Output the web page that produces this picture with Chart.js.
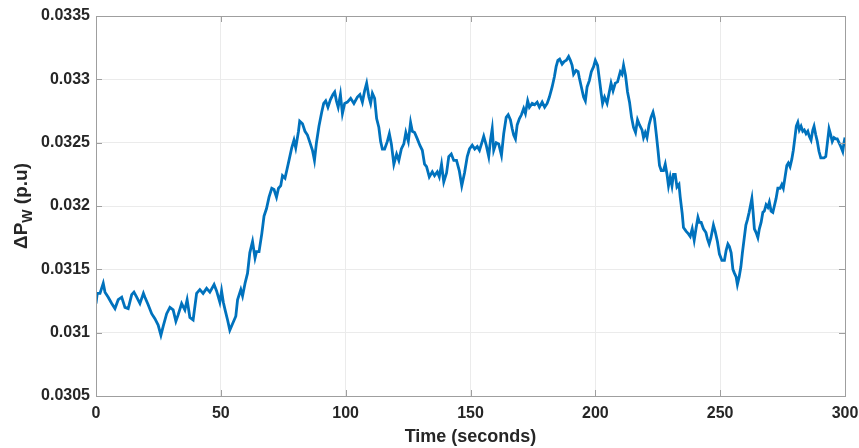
<!DOCTYPE html>
<html lang="en">
<head>
    <meta charset="UTF-8">
    <title>Delta Pw vs Time</title>
    <script src="https://cdn.jsdelivr.net/npm/chart.js"></script>
    <style>
        * { margin: 0; padding: 0; box-sizing: border-box; }
        body { background: #ffffff; }
        #chart { display: block; }
    </style>
</head>
<body>
    <canvas id="chart" width="859" height="448"></canvas>

    <script>
        // values
        var timeSec = [
            0, 0.5, 1.6, 2.9, 3.6, 4.9, 6.3, 7.6, 8.9, 10.3, 11.6, 12.9, 14.3, 15.2, 16.3, 17.6, 19, 19.6,
            20.9, 22.3, 23.6, 24.9, 26, 26.9, 28.3, 29.6, 30.9, 32, 32.9, 34.3, 35.6, 36.5, 37.6, 38.9,
            40.3, 41.6, 42.9, 44.3, 45.6, 47.3, 48.3, 49.6, 50.3, 51, 51.7, 52.7, 53.6, 54.7, 56, 56.7,
            58, 58.7, 59.7, 60.7, 61.6, 62.7, 63.7, 64.3, 65.3, 66.4, 67.3, 68.3, 69.3, 70.4, 71.3, 72.3,
            73.1, 74, 74.7, 75.7, 76.4, 77.3, 78.4, 79.3, 80, 81.1, 81.6, 82.7, 83.7, 84.7, 85.7, 86.7,
            87.5, 88.3, 89.3, 90.4, 91.2, 92, 92.9, 93.9, 94.9, 95.6, 96.3, 97, 97.9, 98.7, 99.6, 100.7,
            102, 103.3, 104.7, 105.7, 106.7, 107.6, 108.4, 109.3, 110, 110.7, 111.6, 112.4, 113.3, 114,
            114.7, 115.6, 116.7, 117.5, 118.3, 119.3, 120.4, 121.3, 122.3, 123.3, 124.1, 125.1, 126,
            126.7, 127.6, 128.7, 129.7, 130.7, 131.6, 132.4, 133.5, 134.7, 135.6, 136.7, 137.5, 138.4,
            139.3, 140.4, 141.3, 142.3, 143.3, 144.4, 145.5, 146.5, 147.6, 148.7, 149.6, 150.7, 151.7,
            152.7, 153.6, 154.4, 155.3, 156.3, 157.3, 158, 158.7, 159.3, 160.3, 161.3, 162.4, 163.3,
            164.3, 165.1, 166, 166.7, 167.3, 168, 168.7, 169.6, 170.4, 171.3, 172, 172.9, 173.6, 174.7,
            175.7, 176.7, 177.6, 178.7, 179.7, 180.7, 181.6, 182.7, 183.6, 184.3, 185, 185.7, 186.7,
            187.5, 188.4, 189.3, 190, 190.7, 191.3, 192.3, 193.1, 193.6, 194.4, 195.3, 196, 196.7,
            197.6, 198.4, 199.3, 200, 200.9, 201.7, 202.4, 202.9, 203.7, 204.7, 205.3, 206.3, 207.1,
            208, 208.9, 210, 210.7, 211.3, 212.1, 212.9, 213.7, 214.5, 215.3, 216.1, 216.9, 217.7,
            218.7, 219.3, 220, 220.7, 221.5, 222.3, 223.1, 223.7, 224.4, 225.1, 225.7, 226.4, 227.3,
            228, 228.7, 229.3, 230, 230.7, 231.3, 232, 232.7, 233.5, 234, 234.8, 235.3, 236.4, 237.3,
            238, 238.8, 239.6, 240.4, 241.1, 241.7, 242.4, 243.3, 244.3, 244.9, 245.6, 246.3, 247.3,
            248, 248.9, 249.7, 250.7, 251.7, 252.4, 253.1, 253.7, 254.4, 255.1, 255.7, 256.4, 256.9,
            257.6, 258.3, 258.9, 259.6, 260.3, 260.9, 261.6, 262.3, 262.7, 263.2, 263.7, 264.4, 265.1,
            265.7, 266.4, 267.1, 267.7, 268.4, 269.1, 269.7, 270.4, 271.1, 271.7, 272.4, 273.1, 274,
            274.7, 275.3, 276, 276.7, 277.3, 278, 278.7, 279.3, 280, 280.5, 281.1, 281.7, 282.4, 283.1,
            283.7, 284.4, 285.1, 285.7, 286.4, 287.1, 287.6, 288.3, 288.9, 289.6, 290.3, 290.9, 291.6,
            292.3, 292.9, 293.6, 294.3, 294.9, 295.6, 296.3, 296.9, 297.6, 298.3, 299.1, 299.6, 300
        ];

        var deltaPw = [
            0.03123, 0.03131, 0.03131, 0.03139, 0.03132, 0.03128, 0.03123, 0.03119, 0.03126, 0.03128, 0.03120, 0.03119, 0.03130, 0.03132, 0.03128, 0.03123, 0.03131, 0.03128,
            0.03122, 0.03115, 0.03111, 0.03106, 0.03098, 0.03105, 0.03115, 0.03120, 0.03118, 0.03109, 0.03114, 0.03123, 0.03118, 0.03126, 0.03112, 0.03110,
            0.03131, 0.03134, 0.03131, 0.03135, 0.03132, 0.03138, 0.03133, 0.03124, 0.03133, 0.03124, 0.03118, 0.03110, 0.03102, 0.03107, 0.03113, 0.03126,
            0.03134, 0.03129, 0.03139, 0.03147, 0.03163, 0.03172, 0.03159, 0.03164, 0.03164, 0.03178, 0.03192, 0.03198, 0.03207, 0.03214, 0.03213, 0.03207,
            0.03214, 0.03216, 0.03224, 0.03222, 0.03228, 0.03236, 0.03246, 0.03252, 0.03246, 0.03259, 0.03267, 0.03265, 0.03259, 0.03256, 0.03250, 0.03244,
            0.03236, 0.03250, 0.03263, 0.03274, 0.03281, 0.03283, 0.03278, 0.03284, 0.03288, 0.03290, 0.03283, 0.03278, 0.03288, 0.03273, 0.03281, 0.03282,
            0.03285, 0.03281, 0.03286, 0.03288, 0.03282, 0.03291, 0.03297, 0.03286, 0.03281, 0.03289, 0.03285, 0.03269, 0.03262, 0.03251,
            0.03245, 0.03245, 0.03251, 0.03257, 0.03249, 0.03233, 0.03241, 0.03236, 0.03245, 0.03249, 0.03258, 0.03251, 0.03266,
            0.03259, 0.03258, 0.03253, 0.03248, 0.03244, 0.03233, 0.03231, 0.03223, 0.03227, 0.03224, 0.03227, 0.03223, 0.03233,
            0.03219, 0.03226, 0.03239, 0.03241, 0.03236, 0.03236, 0.03228, 0.03216, 0.03226, 0.03239, 0.03245, 0.03248, 0.03245,
            0.03247, 0.03244, 0.03249, 0.03255, 0.03248, 0.03239, 0.03252, 0.03261, 0.03244, 0.03250, 0.03249, 0.03240, 0.03257,
            0.03270, 0.03272, 0.03268, 0.03261, 0.03256, 0.03253, 0.03264, 0.03269, 0.03272, 0.03277, 0.03273, 0.03283, 0.03278, 0.03281,
            0.03280, 0.03282, 0.03278, 0.03282, 0.03278, 0.03281, 0.03286, 0.03294, 0.03302, 0.03310, 0.03315, 0.03316, 0.03312,
            0.03314, 0.03315, 0.03318, 0.03315, 0.03311, 0.03304, 0.03307, 0.03306, 0.03301, 0.03294, 0.03286, 0.03283, 0.03294,
            0.03299, 0.03306, 0.03310, 0.03315, 0.03311, 0.03299, 0.03288, 0.03281, 0.03286, 0.03281, 0.03287, 0.03297, 0.03291,
            0.03297, 0.03298, 0.03306, 0.03304, 0.03311, 0.03303, 0.03290, 0.03282, 0.03270, 0.03262, 0.03258, 0.03268, 0.03264,
            0.03260, 0.03254, 0.03258, 0.03254, 0.03264, 0.03270, 0.03274, 0.03269, 0.03257, 0.03244, 0.03232, 0.03228, 0.03228,
            0.03233, 0.03225, 0.03216, 0.03223, 0.03216, 0.03225, 0.03225, 0.03215, 0.03217, 0.03207, 0.03194, 0.03183, 0.03180, 0.03178,
            0.03176, 0.03182, 0.03173, 0.03183, 0.03191, 0.03187, 0.03187, 0.03182, 0.03179, 0.03174, 0.03170, 0.03175, 0.03185,
            0.03180, 0.03172, 0.03162, 0.03157, 0.03157, 0.03165, 0.03170, 0.03168, 0.03163, 0.03150, 0.03147, 0.03144, 0.03138,
            0.03144, 0.03152, 0.03163, 0.03174, 0.03185, 0.03189, 0.03195, 0.03202, 0.03206, 0.03195, 0.03182, 0.03179, 0.03175,
            0.03182, 0.03187, 0.03195, 0.03196, 0.03201, 0.03199, 0.03203, 0.03196, 0.03195, 0.03200, 0.03206, 0.03214, 0.03214,
            0.03217, 0.03214, 0.03223, 0.03232, 0.03234, 0.03231, 0.03237, 0.03244, 0.03255, 0.03263, 0.03266, 0.03260, 0.03263, 0.03259,
            0.03260, 0.03257, 0.03259, 0.03255, 0.03252, 0.03260, 0.03263, 0.03256, 0.03251, 0.03243, 0.03238, 0.03238, 0.03238,
            0.03239, 0.03249, 0.03261, 0.03256, 0.03251, 0.03254, 0.03253, 0.03253, 0.03250, 0.03247, 0.03243, 0.03250, 0.03254
        ];

        var xTicks = [0, 50, 100, 150, 200, 250, 300];
        var yTicks = [0.0305, 0.031, 0.0315, 0.032, 0.0325, 0.033, 0.0335];

        var tickFont = { family: 'Liberation Sans, Arial, sans-serif', size: 16, weight: 'bold' };
        var boxColor = '#9f9f9f';

        // MATLAB-style box with inward ticks, plus the y label with a subscript
        var axesBox = {
            id: 'axesBox',
            afterDraw: function (chart) {
                var ctx = chart.ctx;
                var a = chart.chartArea;
                var xs = chart.scales.x, ys = chart.scales.y;
                ctx.save();
                ctx.strokeStyle = boxColor;
                ctx.lineWidth = 1;
                ctx.strokeRect(Math.round(a.left) + 0.5, Math.round(a.top) + 0.5,
                    Math.round(a.right - a.left), Math.round(a.bottom - a.top));
                ctx.beginPath();
                xTicks.forEach(function (t) {
                    var px = Math.round(xs.getPixelForValue(t)) + 0.5;
                    ctx.moveTo(px, a.bottom); ctx.lineTo(px, a.bottom - 6);
                    ctx.moveTo(px, a.top); ctx.lineTo(px, a.top + 6);
                });
                yTicks.forEach(function (v) {
                    var py = Math.round(ys.getPixelForValue(v)) + 0.5;
                    ctx.moveTo(a.left, py); ctx.lineTo(a.left + 6, py);
                    ctx.moveTo(a.right, py); ctx.lineTo(a.right - 6, py);
                });
                ctx.stroke();

                // y axis title: ΔP with subscript W
                ctx.fillStyle = '#262626';
                ctx.translate(27, (a.top + a.bottom) / 2);
                ctx.rotate(-Math.PI / 2);
                ctx.textBaseline = 'alphabetic';
                var big = 'bold 19px Liberation Sans, Arial, sans-serif';
                var small = 'bold 14px Liberation Sans, Arial, sans-serif';
                ctx.font = big;
                var w1 = ctx.measureText('\u0394P').width;
                var w3 = ctx.measureText(' (p.u)').width;
                ctx.font = small;
                var w2 = ctx.measureText('W').width;
                var x0 = -(w1 + w2 + w3) / 2;
                ctx.font = big;
                ctx.fillText('\u0394P', x0, 0);
                ctx.font = small;
                ctx.fillText('W', x0 + w1, 5);
                ctx.font = big;
                ctx.fillText(' (p.u)', x0 + w1 + w2, 0);
                ctx.restore();
            }
        };

        var ctx = document.getElementById('chart').getContext('2d');
        var chart = new Chart(ctx, {
            type: 'line',
            data: {
                datasets: [{
                    data: timeSec.map(function (t, i) { return { x: t, y: deltaPw[i] }; }),
                    borderColor: '#0072BD',
                    borderWidth: 2.8,
                    pointRadius: 0,
                    tension: 0,
                    fill: false
                }]
            },
            options: {
                responsive: false,
                animation: false,
                layout: { padding: { left: 0, top: 16, right: 14, bottom: 0 } },
                plugins: {
                    legend: { display: false },
                    tooltip: { enabled: false }
                },
                scales: {
                    x: {
                        type: 'linear',
                        min: 0,
                        max: 300,
                        afterBuildTicks: function (scale) {
                            scale.ticks = xTicks.map(function (v) { return { value: v }; });
                        },
                        afterFit: function (scale) {
                            scale.height = 52;
                            scale.paddingLeft = 0;
                            scale.paddingRight = 0;
                        },
                        grid: { color: '#ebebeb', drawTicks: false },
                        border: { display: false },
                        ticks: { font: tickFont, color: '#262626', padding: 8, maxRotation: 0 },
                        title: {
                            display: true,
                            text: 'Time (seconds)',
                            color: '#262626',
                            font: { family: 'Liberation Sans, Arial, sans-serif', size: 18, weight: 'bold' },
                            padding: { top: 0, bottom: 0 }
                        }
                    },
                    y: {
                        min: 0.0305,
                        max: 0.0335,
                        afterBuildTicks: function (scale) {
                            scale.ticks = yTicks.map(function (v) { return { value: v }; });
                        },
                        afterFit: function (scale) {
                            scale.width = 96;
                            scale.paddingTop = 0;
                            scale.paddingBottom = 0;
                        },
                        grid: { color: '#ebebeb', drawTicks: false },
                        border: { display: false },
                        ticks: {
                            font: tickFont,
                            color: '#262626',
                            padding: 6,
                            callback: function (v) { return String(parseFloat(v.toFixed(4))); }
                        }
                    }
                }
            },
            plugins: [axesBox]
        });
    </script>
</body>
</html>
